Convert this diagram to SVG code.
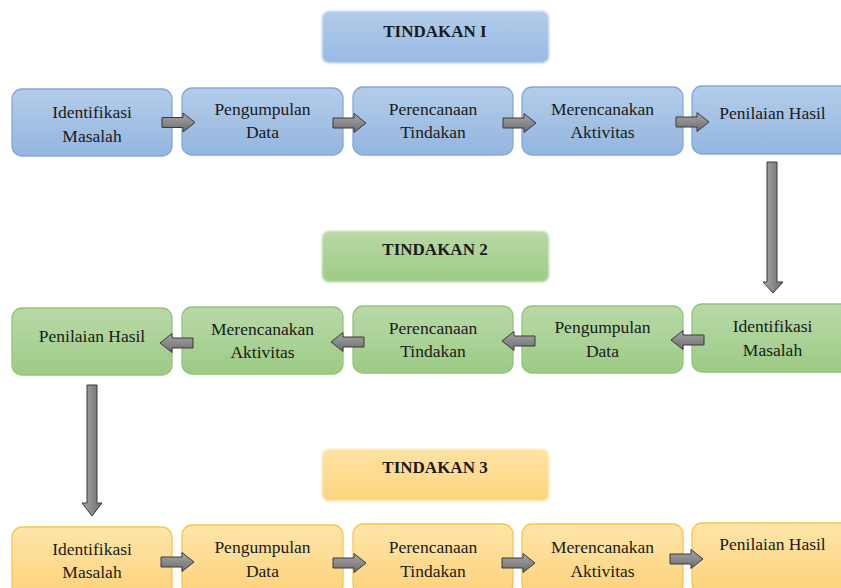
<svg xmlns="http://www.w3.org/2000/svg" width="841" height="588" viewBox="0 0 841 588" font-family="'Liberation Serif', 'Times New Roman', 'DejaVu Serif', serif">
<style>
text{font-family:'Liberation Serif','Times New Roman','DejaVu Serif',serif;font-size:17.5px;fill:#1a1a1a;text-anchor:middle}
.t{font-weight:bold;font-size:17px}
.b{fill:url(#gb);stroke:#84a9d9;stroke-width:1.3}
.g{fill:url(#gg);stroke:#93c47a;stroke-width:1.3}
.o{fill:url(#go);stroke:#f6c64e;stroke-width:1.3}
.tb{fill:url(#gtb);filter:url(#soft)}
.tg{fill:url(#gtg);filter:url(#soft)}
.to{fill:url(#gto);filter:url(#soft)}
.ar{fill:url(#ga);stroke:#3a3a3a;stroke-width:1}
</style>
<defs>
<linearGradient id="gb" x1="0" y1="0" x2="0" y2="1"><stop offset="0" stop-color="#b4cdea"/><stop offset="1" stop-color="#93b5df"/></linearGradient>
<linearGradient id="gg" x1="0" y1="0" x2="0" y2="1"><stop offset="0" stop-color="#b9d9a8"/><stop offset="1" stop-color="#9ccb85"/></linearGradient>
<linearGradient id="go" x1="0" y1="0" x2="0" y2="1"><stop offset="0" stop-color="#fee5a9"/><stop offset="1" stop-color="#fdd27b"/></linearGradient>
<linearGradient id="gtb" x1="0" y1="0" x2="0" y2="1"><stop offset="0" stop-color="#b3ccea"/><stop offset="1" stop-color="#99bae4"/></linearGradient>
<linearGradient id="gtg" x1="0" y1="0" x2="0" y2="1"><stop offset="0" stop-color="#b8d9a6"/><stop offset="1" stop-color="#9dcc87"/></linearGradient>
<linearGradient id="gto" x1="0" y1="0" x2="0" y2="1"><stop offset="0" stop-color="#fee3a4"/><stop offset="1" stop-color="#fdd47e"/></linearGradient>
<linearGradient id="ga" x1="0" y1="0" x2="0" y2="1"><stop offset="0" stop-color="#a8a8a8"/><stop offset="1" stop-color="#6c6c6c"/></linearGradient>
<linearGradient id="gav" x1="0" y1="0" x2="1" y2="0"><stop offset="0" stop-color="#a8a8a8"/><stop offset="1" stop-color="#6c6c6c"/></linearGradient>
<filter id="soft" x="-5%" y="-10%" width="110%" height="120%"><feGaussianBlur stdDeviation="0.9"/></filter>
<path id="ra" d="M0,-5 H21 V-9.5 L33,0 L21,9.5 V5 H0 Z"/>
</defs>

<g id="title1"><rect class="tb" x="322" y="11" width="227" height="52" rx="7"/><text class="t" x="435" y="37">TINDAKAN I</text></g>
<g id="title2"><rect class="tg" x="322" y="231" width="227" height="51" rx="7"/><text class="t" x="435" y="255">TINDAKAN 2</text></g>
<g id="title3"><rect class="to" x="322" y="449" width="227" height="52" rx="7"/><text class="t" x="435" y="473">TINDAKAN 3</text></g>

<g id="r1n1"><rect class="b" x="12" y="89" width="160" height="67" rx="10"/><text x="92" y="118">Identifikasi</text><text x="92" y="142">Masalah</text></g>
<g id="r1n2"><rect class="b" x="182" y="88" width="161" height="67" rx="10"/><text x="262.5" y="115">Pengumpulan</text><text x="262.5" y="138">Data</text></g>
<g id="r1n3"><rect class="b" x="353" y="87" width="160" height="68" rx="10"/><text x="433" y="115">Perencanaan</text><text x="433" y="138">Tindakan</text></g>
<g id="r1n4"><rect class="b" x="522" y="87" width="161" height="68" rx="10"/><text x="602.5" y="115">Merencanakan</text><text x="602.5" y="138">Aktivitas</text></g>
<g id="r1n5"><rect class="b" x="692" y="86" width="162" height="68" rx="10"/><text x="772.5" y="119">Penilaian Hasil</text></g>

<g id="r2n1"><rect class="g" x="692" y="304" width="162" height="68" rx="10"/><text x="772.5" y="332">Identifikasi</text><text x="772.5" y="356">Masalah</text></g>
<g id="r2n2"><rect class="g" x="522" y="306" width="161" height="67" rx="10"/><text x="602.5" y="333">Pengumpulan</text><text x="602.5" y="357">Data</text></g>
<g id="r2n3"><rect class="g" x="353" y="306" width="160" height="67" rx="10"/><text x="433" y="334">Perencanaan</text><text x="433" y="357">Tindakan</text></g>
<g id="r2n4"><rect class="g" x="182" y="307" width="161" height="67" rx="10"/><text x="262.5" y="335">Merencanakan</text><text x="262.5" y="358">Aktivitas</text></g>
<g id="r2n5"><rect class="g" x="12" y="308" width="160" height="67" rx="10"/><text x="92" y="342">Penilaian Hasil</text></g>

<g id="r3n1"><rect class="o" x="12" y="527" width="160" height="70" rx="10"/><text x="92" y="555">Identifikasi</text><text x="92" y="578">Masalah</text></g>
<g id="r3n2"><rect class="o" x="182" y="525" width="161" height="70" rx="10"/><text x="262.5" y="553">Pengumpulan</text><text x="262.5" y="577">Data</text></g>
<g id="r3n3"><rect class="o" x="353" y="524" width="160" height="70" rx="10"/><text x="433" y="553">Perencanaan</text><text x="433" y="577">Tindakan</text></g>
<g id="r3n4"><rect class="o" x="522" y="524" width="161" height="70" rx="10"/><text x="602.5" y="553">Merencanakan</text><text x="602.5" y="577">Aktivitas</text></g>
<g id="r3n5"><rect class="o" x="692" y="523" width="162" height="70" rx="10"/><text x="772.5" y="550">Penilaian Hasil</text></g>

<g id="connectors">
<use href="#ra" class="ar" transform="translate(162,122.5)"/>
<use href="#ra" class="ar" transform="translate(333,123)"/>
<use href="#ra" class="ar" transform="translate(503,123)"/>
<use href="#ra" class="ar" transform="translate(676,122)"/>
<path class="ar" style="fill:url(#gav)" d="M767,162 H777 V282 H783 L773,293 L763,282 H767 Z"/>
<use href="#ra" class="ar" transform="translate(704,340) scale(-1,1)"/>
<use href="#ra" class="ar" transform="translate(535,341) scale(-1,1)"/>
<use href="#ra" class="ar" transform="translate(364,342) scale(-1,1)"/>
<use href="#ra" class="ar" transform="translate(193,343) scale(-1,1)"/>
<path class="ar" style="fill:url(#gav)" d="M87,385 H97 V503 H102 L92,516 L82,503 H87 Z"/>
<use href="#ra" class="ar" transform="translate(161,562)"/>
<use href="#ra" class="ar" transform="translate(333,563)"/>
<use href="#ra" class="ar" transform="translate(502,563)"/>
<use href="#ra" class="ar" transform="translate(670,559)"/>
</g>
</svg>
